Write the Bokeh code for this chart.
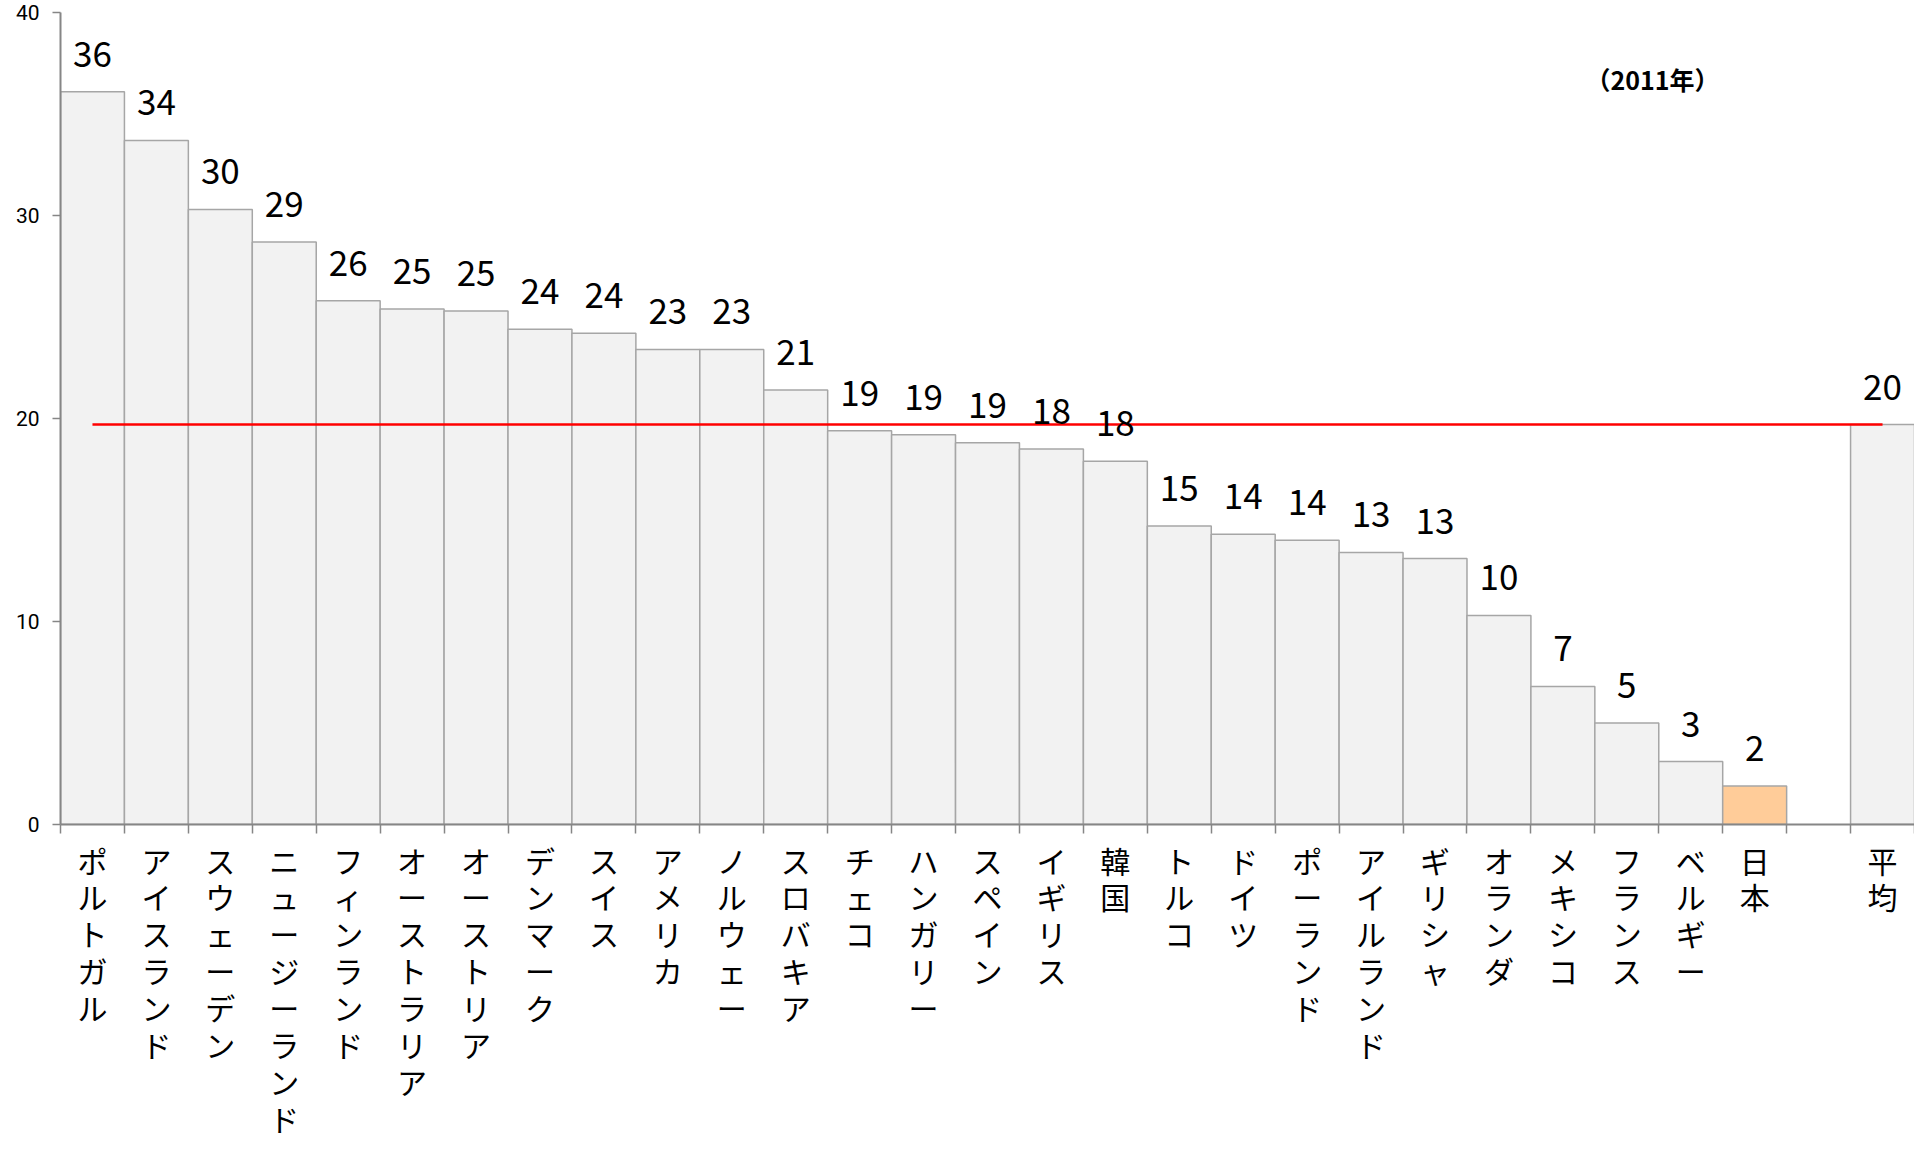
import numpy as np
from bokeh.plotting import figure
from bokeh.models import Range1d, FixedTicker, ColumnDataSource, LabelSet, Label
from bokeh.embed import file_html
from bokeh.resources import INLINE
from bokeh.core.properties import value

countries = ["ポルトガル", "アイスランド", "スウェーデン", "ニュージーランド", "フィンランド",
             "オーストラリア", "オーストリア", "デンマーク", "スイス", "アメリカ", "ノルウェー",
             "スロバキア", "チェコ", "ハンガリー", "スペイン", "イギリス", "韓国", "トルコ",
             "ドイツ", "ポーランド", "アイルランド", "ギリシャ", "オランダ", "メキシコ",
             "フランス", "ベルギー", "日本"]
values = [36.1, 33.7, 30.3, 28.7, 25.8, 25.4, 25.3, 24.4, 24.2, 23.4, 23.4,
          21.4, 19.4, 19.2, 18.8, 18.5, 17.9, 14.7, 14.3, 14.0, 13.4, 13.1,
          10.3, 6.8, 5.0, 3.1, 1.9]
avg_name = "平均"
avg_value = 19.7
highlight = "日本"
year_note = "（2011年）"
y_ticks = [0, 10, 20, 30, 40]

FONT = "Noto Sans CJK JP"

n = len(countries)
slots = n + 2
x_pos = [i + 0.5 for i in range(n)] + [slots - 0.5]
names = countries + [avg_name]
vals = values + [avg_value]
fills = ["#FFCC99" if c == highlight else "#F2F2F2" for c in names]
labels = [f"{v:.0f}" for v in vals]

src = ColumnDataSource(dict(x=x_pos, top=vals, fill=fills, label=labels))

p = figure(width=1914, height=1143, output_backend="svg", toolbar_location=None,
           x_range=Range1d(0, slots), y_range=Range1d(0, 40),
           min_border_left=60, min_border_right=0, min_border_top=12,
           min_border_bottom=0)
p.outline_line_color = None
p.grid.visible = False
p.background_fill_color = "white"
p.border_fill_color = "white"

p.vbar(x="x", top="top", width=1.0, bottom=0, source=src, fill_color="fill",
       line_color="#A6A6A6", line_width=1.5)

p.line(x=[x_pos[0], x_pos[-1]], y=[avg_value, avg_value], line_color="#FF0000",
       line_width=2.5)

lbls = LabelSet(x="x", y="top", text="label", source=src, y_offset=25,
                text_align="center", text_baseline="alphabetic",
                text_font=value(FONT), text_font_size="35px", text_color="#000000")
p.add_layout(lbls)

note = Label(x=24.9, y=36.7, text=year_note, text_align="center",
             text_baseline="middle", text_font=FONT, text_font_size="25px",
             text_font_style="bold", text_color="#000000")
p.add_layout(note)

# x axis: boundary ticks (minor), names at bar centres (major, stacked vertically)
xa = p.xaxis[0]
xa.ticker = FixedTicker(ticks=x_pos, minor_ticks=list(range(slots + 1)))
xa.major_label_overrides = {x: "\n".join(nm) for x, nm in zip(x_pos, names)}
xa.major_tick_out = 0
xa.major_tick_in = 0
xa.minor_tick_out = 9
xa.minor_tick_in = 0
xa.minor_tick_line_color = "#868686"
xa.minor_tick_line_width = 1.5
xa.axis_line_color = "#868686"
xa.axis_line_width = 2
xa.major_label_text_font = FONT
xa.major_label_text_font_size = "30px"
xa.major_label_text_line_height = 0.84
xa.major_label_text_color = "#000000"
xa.major_label_standoff = 4
xa.major_label_orientation = "horizontal"

# y axis
ya = p.yaxis[0]
ya.ticker = FixedTicker(ticks=y_ticks, minor_ticks=[])
ya.major_tick_out = 8
ya.major_tick_in = 0
ya.major_tick_line_color = "#868686"
ya.major_tick_line_width = 1.5
ya.axis_line_color = "#868686"
ya.axis_line_width = 2
ya.major_label_text_font = "Roboto"
ya.major_label_text_font_size = "21px"
ya.major_label_text_color = "#000000"
ya.major_label_standoff = 13

open("out.html", "w").write(file_html(p, INLINE))
